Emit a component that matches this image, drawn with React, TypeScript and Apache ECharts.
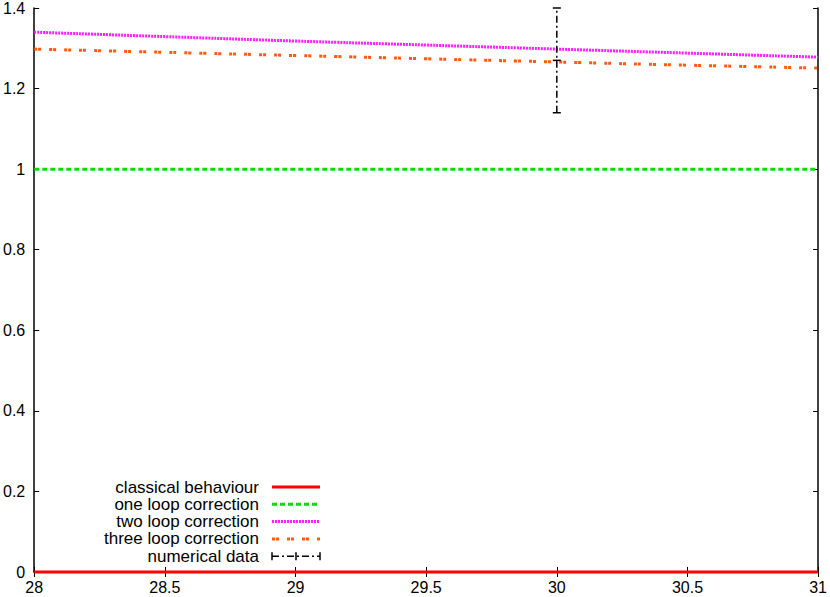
import React, { useEffect, useRef } from "react";
import * as echarts from "echarts";

const xTicks = [28, 28.5, 29, 29.5, 30, 30.5, 31];
const classical = [[28, 0], [31, 0]];
const oneLoop = [[28, 1], [31, 1]];
const twoLoopX = [28, 28.5, 29, 29.5, 30, 30.5, 31];
const twoLoopY = [1.340, 1.329, 1.318, 1.308, 1.298, 1.288, 1.278];
const threeLoopY = [1.298, 1.290, 1.282, 1.274, 1.266, 1.258, 1.251];
// x, y, yLow, yHigh
const numerical = [[30, 1.27, 1.14, 1.40]];
const legendNames = [
  "classical behaviour",
  "one loop correction",
  "two loop correction",
  "three loop correction",
  "numerical data",
];
const colors = ["#ff0000", "#00e000", "#ff20ff", "#ff5a10", "#000000"];
const FONT = "Liberation Sans";

export default function App() {
  const ref = useRef<HTMLDivElement>(null);
  useEffect(() => {
    const chart = echarts.init(ref.current!, null, { renderer: "svg" });
    const dashes: any[] = [null, [5, 3], [2, 1], [3, 1, 3, 8], [7, 3, 2, 3]];
    const widths = [3, 3, 3, 3, 1.5];
    const legendGraphics: any[] = [];
    const rowY0 = 487;
    const rowGap = 17.3;
    legendNames.forEach((name, i) => {
      const y = rowY0 + i * rowGap;
      legendGraphics.push({
        type: "text",
        x: 259,
        y,
        style: {
          text: name,
          fill: "#000",
          font: `17px "${FONT}"`,
          textAlign: "right",
          textVerticalAlign: "middle",
        },
      });
      legendGraphics.push({
        type: "line",
        shape: { x1: 272, y1: y, x2: 320, y2: y },
        style: {
          stroke: colors[i],
          lineWidth: widths[i],
          lineDash: dashes[i] || undefined,
        },
      });
      if (i === 4) {
        legendGraphics.push(
          { type: "line", shape: { x1: 272, y1: y - 4, x2: 272, y2: y + 4 }, style: { stroke: "#000", lineWidth: 1.5 } },
          { type: "line", shape: { x1: 320, y1: y - 4, x2: 320, y2: y + 4 }, style: { stroke: "#000", lineWidth: 1.5 } },
          { type: "line", shape: { x1: 296, y1: y - 4, x2: 296, y2: y + 4 }, style: { stroke: "#000", lineWidth: 1.5 } }
        );
      }
    });

    const axisLabel = { color: "#000", fontFamily: FONT, fontSize: 16 };
    chart.setOption({
      animation: false,
      backgroundColor: "#fff",
      grid: { left: 34, right: 9, top: 7, bottom: 25, containLabel: false },
      xAxis: [
        {
          type: "value",
          min: 28,
          max: 31,
          interval: 0.5,
          axisLine: { show: true, lineStyle: { color: "#000", width: 1.5 } },
          axisTick: { show: true, inside: true, length: 5, lineStyle: { color: "#000" } },
          axisLabel: { ...axisLabel, margin: 7, showMinLabel: true, showMaxLabel: true },
          splitLine: { show: false },
        },
        {
          type: "value",
          position: "top",
          min: 28,
          max: 31,
          interval: 0.5,
          axisLine: { show: true, lineStyle: { color: "#000", width: 1.5 } },
          axisTick: { show: true, inside: true, length: 5, lineStyle: { color: "#000" } },
          axisLabel: { show: false },
          splitLine: { show: false },
        },
      ],
      yAxis: [
        {
          type: "value",
          min: 0,
          max: 1.4,
          interval: 0.2,
          axisLine: { show: true, lineStyle: { color: "#000", width: 1.5 } },
          axisTick: { show: true, inside: true, length: 5, lineStyle: { color: "#000" } },
          axisLabel: { ...axisLabel, margin: 9, showMinLabel: true, showMaxLabel: true },
          splitLine: { show: false },
        },
        {
          type: "value",
          position: "right",
          min: 0,
          max: 1.4,
          interval: 0.2,
          axisLine: { show: true, lineStyle: { color: "#000", width: 1.5 } },
          axisTick: { show: true, inside: true, length: 5, lineStyle: { color: "#000" } },
          axisLabel: { show: false },
          splitLine: { show: false },
        },
      ],
      series: [
        {
          name: legendNames[0],
          type: "line",
          data: classical,
          showSymbol: false,
          clip: false,
          lineStyle: { color: colors[0], width: 3 },
          z: 5,
        },
        {
          name: legendNames[1],
          type: "line",
          data: oneLoop,
          showSymbol: false,
          lineStyle: { color: colors[1], width: 3, type: [5, 3] },
        },
        {
          name: legendNames[2],
          type: "line",
          data: twoLoopX.map((x, i) => [x, twoLoopY[i]]),
          showSymbol: false,
          smooth: true,
          lineStyle: { color: colors[2], width: 3, type: [2, 1] },
        },
        {
          name: legendNames[3],
          type: "line",
          data: twoLoopX.map((x, i) => [x, threeLoopY[i]]),
          showSymbol: false,
          smooth: true,
          lineStyle: { color: colors[3], width: 3, type: [3, 1, 3, 8] },
        },
        {
          name: legendNames[4],
          type: "custom",
          data: numerical,
          clip: false,
          z: 6,
          renderItem: (params: any, api: any) => {
            const x = api.value(0);
            const c = api.coord([x, api.value(1)]);
            const lo = api.coord([x, api.value(2)]);
            const hi = api.coord([x, api.value(3)]);
            const st = { stroke: "#000", lineWidth: 1.5 };
            return {
              type: "group",
              children: [
                { type: "line", shape: { x1: lo[0], y1: lo[1], x2: hi[0], y2: hi[1] }, style: { ...st, lineDash: [7, 3, 2, 3] } },
                { type: "line", shape: { x1: lo[0] - 4, y1: lo[1], x2: lo[0] + 4, y2: lo[1] }, style: st },
                { type: "line", shape: { x1: hi[0] - 4, y1: hi[1], x2: hi[0] + 4, y2: hi[1] }, style: st },
                { type: "line", shape: { x1: c[0] - 4, y1: c[1], x2: c[0] + 4, y2: c[1] }, style: st },
              ],
            };
          },
        },
      ],
      graphic: legendGraphics,
    });
    return () => chart.dispose();
  }, []);
  return <div ref={ref} style={{ width: 830, height: 597, position: "absolute", left: 0, top: 0 }} />;
}
